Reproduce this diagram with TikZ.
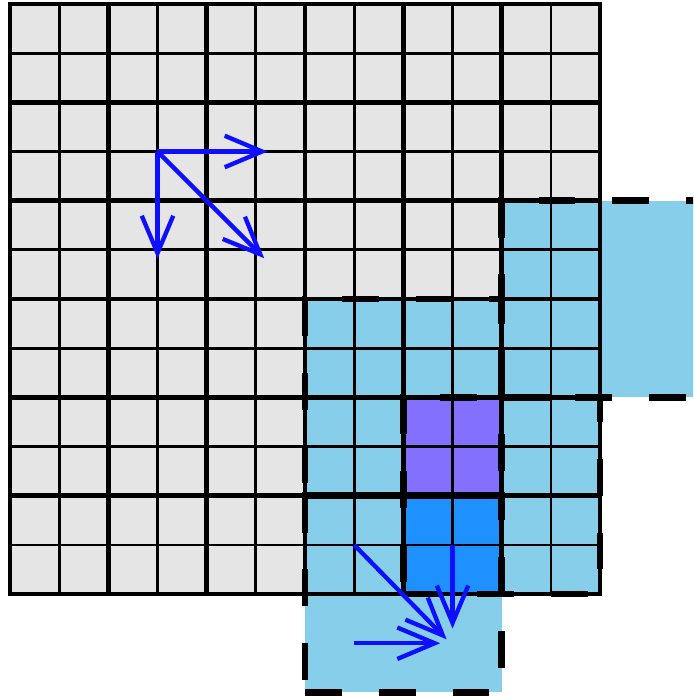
\documentclass[tikz,border=0pt]{standalone}
\usetikzlibrary{arrows.meta}
\definecolor{cellgray}{HTML}{E5E5E5}
\definecolor{skyblue}{HTML}{87CEEB}
\definecolor{slateviolet}{HTML}{8470FF}
\definecolor{dodger}{HTML}{1E90FF}
\definecolor{vecblue}{HTML}{0F0FFF}

% dashed 4x4 window, lower-left corner given (x, y grows downwards)
\newcommand{\windowat}[2]{%
  \draw[window] (#1,#2) -- ++(4,0) -- ++(0,-4) -- ++(-4,0) -- cycle;}

\begin{document}
\begin{tikzpicture}[
  x=1cm, y=-1cm,
  thinline/.style={line width=0.055cm, black},
  thickline/.style={line width=0.093cm, black, line cap=rect},
  window/.style={line width=0.14cm, black, dash pattern=on 0.75cm off 0.75cm},
  vec/.style={-{Straight Barb[length=0.76cm, width=0.64cm]}, line width=0.088cm, draw=vecblue}
]
\useasboundingbox (-0.203,-0.081) rectangle (13.891,14.114);
\clip (-0.203,-0.081) rectangle (13.891,14.114);

% cells and windows
\fill[cellgray] (0,0) rectangle (12,12);
\fill[skyblue] (6,6) rectangle (10,10);
\fill[skyblue] (8,8) rectangle (12,12);
\fill[skyblue] (10,4) rectangle (14,8);
\fill[skyblue] (6,10) rectangle (10,14);
\fill[slateviolet] (8,8) rectangle (10,10);
\fill[dodger] (8,10) rectangle (10,12);

% grid
\foreach \i in {1,3,...,11} {
  \draw[thinline] (\i,0) -- (\i,12);
  \draw[thinline] (0,\i) -- (12,\i);
}
\foreach \i in {0,2,...,12} {
  \draw[thickline] (\i,0) -- (\i,12);
  \draw[thickline] (0,\i) -- (12,\i);
}

% dashed windows
\windowat{6}{10}
\windowat{8}{12}
\windowat{10}{8}
\windowat{6}{14}

% vectors
\coordinate (o1) at (3,3);
\coordinate (o1r) at (5.24,3);
\coordinate (o1d) at (3,5.18);
\coordinate (o1rd) at (5.17,5.17);
\coordinate (o2) at (7,11);
\coordinate (o2rd) at (8.88,12.92);
\coordinate (o3) at (9,11);
\coordinate (o3d) at (9,12.7);
\coordinate (o4) at (7,13);
\coordinate (o4r) at (8.75,13);

\draw[vec] (o1) -- (o1r);
\draw[vec] (o1) -- (o1d);
\draw[vec] (o1) -- (o1rd);
\draw[vec] (o2) -- (o2rd);
\draw[vec] (o3) -- (o3d);
\draw[vec] (o4) -- (o4r);
\end{tikzpicture}
\end{document}
